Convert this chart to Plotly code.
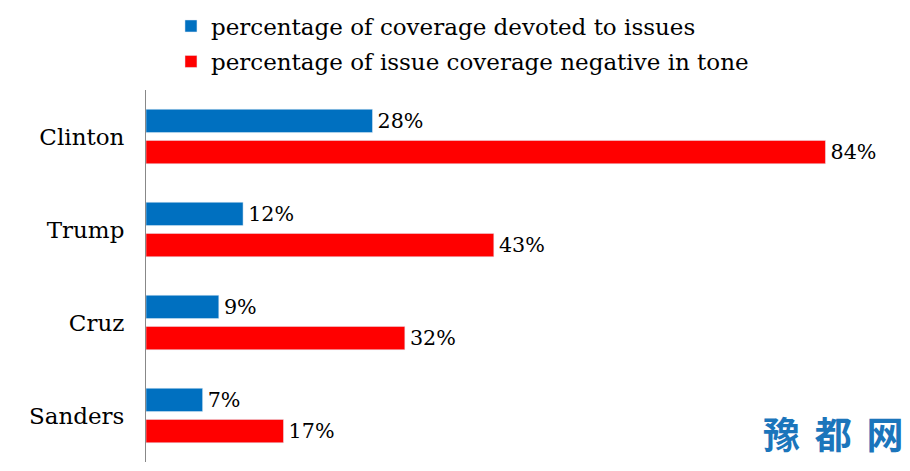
import plotly.graph_objects as go

candidates = ["Clinton", "Trump", "Cruz", "Sanders"]
issues_pct = [28, 12, 9, 7]
negative_pct = [84, 43, 32, 17]
series_names = ["percentage of coverage devoted to issues",
                "percentage of issue coverage negative in tone"]

serif = "DejaVu Serif, serif"
FS = 23

fig = go.Figure()
fig.add_trace(go.Bar(
    y=candidates, x=issues_pct, orientation="h", name=series_names[0],
    marker_color="#0070C0", text=[f"\u200a{v}%" for v in issues_pct],
    textposition="outside", cliponaxis=False, legend="legend",
    textfont=dict(family=serif, size=FS, color="#000000")))
fig.add_trace(go.Bar(
    y=candidates, x=negative_pct, orientation="h", name=series_names[1],
    marker_color="#FF0000", text=[f"\u200a{v}%" for v in negative_pct],
    textposition="outside", cliponaxis=False, legend="legend2",
    textfont=dict(family=serif, size=FS, color="#000000")))

legend_common = dict(xanchor="left", yanchor="middle", bgcolor="rgba(0,0,0,0)",
                     font=dict(family=serif, size=FS, color="#000000"),
                     itemclick=False, itemdoubleclick=False)

fig.update_layout(
    width=910, height=471,
    margin=dict(l=146, r=36, t=90, b=9, autoexpand=False),
    barmode="group", bargap=0.33, bargroupgap=0.25,
    plot_bgcolor="white", paper_bgcolor="white",
    font=dict(family=serif, size=FS, color="#000000"),
    legend=dict(x=0.0343, y=1.172, **legend_common),
    legend2=dict(x=0.0343, y=1.0766, **legend_common),
    xaxis=dict(range=[0, 90], visible=False, showgrid=False, zeroline=False),
    yaxis=dict(autorange="reversed", showline=True, linecolor="#888888",
               linewidth=1, ticks="", showgrid=False, automargin=False,
               tickfont=dict(family=serif, size=FS), ticklabelstandoff=16),
    showlegend=True,
)
fig.add_annotation(text="<b>豫\u2009\u2009都\u2009\u2009网</b>", xref="paper", yref="paper",
                   x=(906 - 146) / 728, y=-0.0, xanchor="right", yanchor="bottom",
                   showarrow=False,
                   font=dict(family="Noto Sans CJK SC", size=37, color="#1B75BB"))

fig.write_html("out.html", config={"displayModeBar": False},
               post_script="document.body.style.margin='0';document.body.style.overflow='hidden';")
